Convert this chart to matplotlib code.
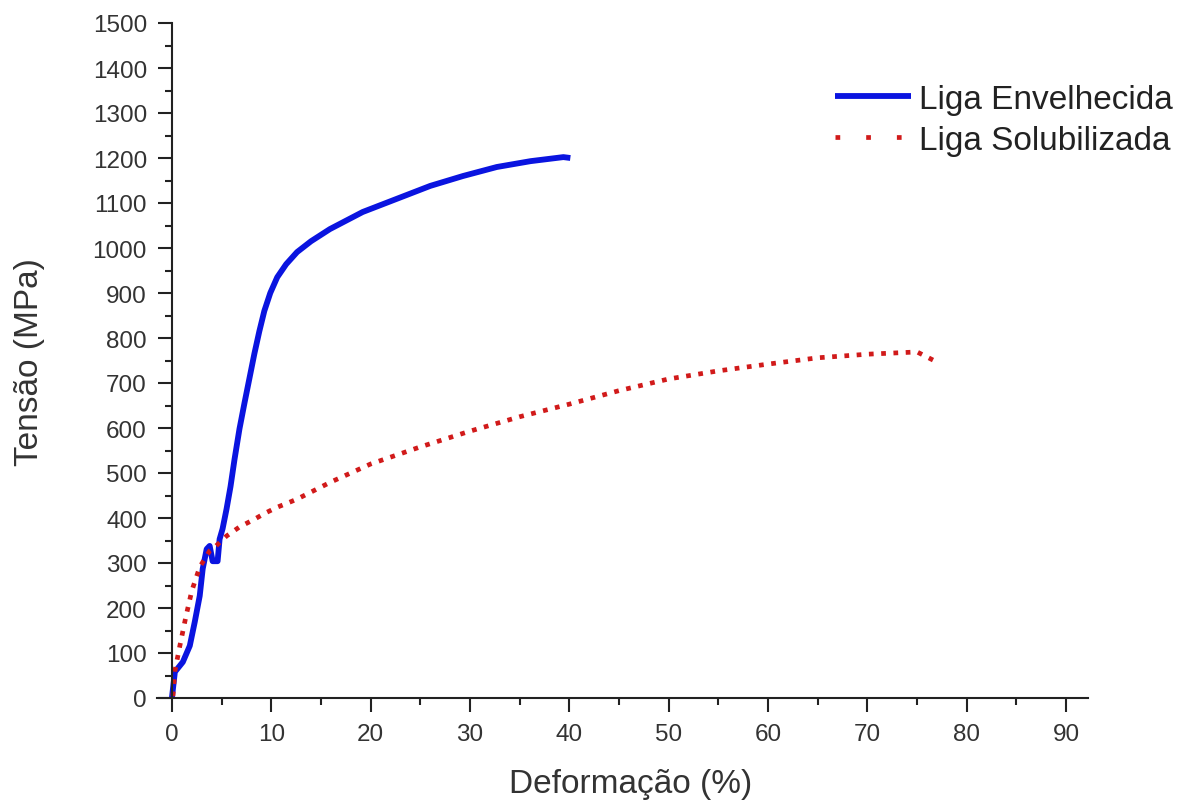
import matplotlib
matplotlib.use("Agg")
import matplotlib.pyplot as plt
from matplotlib.ticker import MultipleLocator

# Liga Envelhecida (solid blue)
env_x = [0.0, 0.3, 1.1, 1.8, 2.3, 2.8, 3.1, 3.5, 3.8, 4.1, 4.6, 4.8, 5.1, 5.5, 5.9, 6.3, 6.8, 7.3,
         7.8, 8.3, 8.8, 9.3, 9.9, 10.6, 11.5, 12.6, 14.0, 15.9, 19.2, 22.6, 26.0, 29.3, 32.7, 36.1, 39.4, 40.1]
env_y = [0, 58, 80, 116, 169, 227, 287, 331, 338, 304, 304, 353, 376, 420, 470, 530, 598, 655,
         710, 765, 815, 860, 900, 935, 964, 991, 1015, 1042, 1080, 1109, 1138, 1160, 1180, 1193, 1202, 1200]

# Liga Solubilizada (red dotted)
sol_x = [0.1, 0.3, 0.8, 1.4, 2.0, 2.8, 3.8, 4.3, 5.5, 6.8, 8.2, 9.4, 10.6, 11.4, 12.6,
         16, 20, 25, 30, 35, 40, 45, 50, 55, 60, 65, 70, 75, 76.6]
sol_y = [4, 60, 116, 180, 238, 291, 327, 335, 360, 380, 396, 411, 424, 431, 442,
         480, 520, 558, 593, 625, 653, 683, 709, 727, 742, 756, 764, 769, 751]

labels = ["Liga Envelhecida", "Liga Solubilizada"]
xlabel = "Deformação (%)"
ylabel = "Tensão (MPa)"

plt.rcParams['font.family'] = ['Liberation Sans', 'DejaVu Sans']

fig = plt.figure(figsize=(11.87, 8.03), dpi=100)
ax = fig.add_axes([157/1187, 1-699/803, (1088-157)/1187, (699-24)/803])

blue = '#0a14e0'
red = '#d11a1a'
ax.plot(env_x, env_y, color=blue, lw=4.2, solid_capstyle='butt', solid_joinstyle='round', label=labels[0])
ax.plot(sol_x, sol_y, color=red, lw=3.4, linestyle=(0, (1, 1.6)), label=labels[1])

ax.set_xlim(-1.5, 92.2)
ax.set_ylim(0, 1500)
ax.spines['left'].set_position(('data', 0))
ax.spines['top'].set_visible(False)
ax.spines['right'].set_visible(False)
for s in ('left', 'bottom'):
    ax.spines[s].set_linewidth(1.5)
    ax.spines[s].set_color('#222222')

ax.xaxis.set_major_locator(MultipleLocator(10))
ax.xaxis.set_minor_locator(MultipleLocator(5))
ax.yaxis.set_major_locator(MultipleLocator(100))
ax.yaxis.set_minor_locator(MultipleLocator(50))
ax.tick_params(which='major', direction='out', length=10, width=1.5, labelsize=17.5,
               labelcolor='#333333', color='#222222')
ax.tick_params(which='minor', direction='out', length=5, width=1.5, color='#222222')
ax.tick_params(axis='y', pad=8)
ax.tick_params(axis='x', pad=8)
ax.set_xticks([0, 10, 20, 30, 40, 50, 60, 70, 80, 90])

fig.text(631/1187, 1-785/803, xlabel, fontsize=24, ha='center', va='center', color='#333333')
fig.text(30/1187, 1-362/803, ylabel, fontsize=24, ha='center', va='center', rotation=90, color='#333333')

leg = ax.legend(loc='upper left', bbox_to_anchor=(835/1187, 1-85/803), bbox_transform=fig.transFigure,
                frameon=False, fontsize=24, handlelength=2.27, handletextpad=0.25,
                labelspacing=0.3, borderpad=0.0, borderaxespad=0.0)
for t in leg.get_texts():
    t.set_color('#222222')
leg.get_lines()[1].set_linestyle((0, (1, 5.5)))

fig.savefig("out.png", dpi=100)
